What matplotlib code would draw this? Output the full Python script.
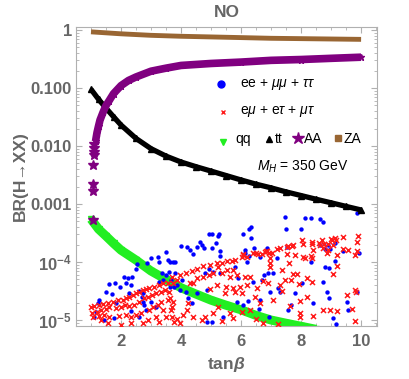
import matplotlib
matplotlib.use('Agg')
import matplotlib.pyplot as plt
from matplotlib.ticker import FixedLocator, FixedFormatter, LogLocator, MultipleLocator, NullFormatter

plt.rcParams['font.family'] = ['Liberation Sans', 'DejaVu Sans']
plt.rcParams['mathtext.fontset'] = 'custom'
plt.rcParams['mathtext.rm'] = 'Liberation Sans'
plt.rcParams['mathtext.it'] = 'Liberation Sans:italic'
plt.rcParams['mathtext.bf'] = 'Liberation Sans:bold'
plt.rcParams['mathtext.sf'] = 'Liberation Sans:bold:italic'

# ---------------- data ----------------
za_tanb = [1.0, 2.0, 3.0, 4.0, 5.0, 6.0, 7.0, 8.0, 9.0, 10.0]
za_br = [0.93, 0.86, 0.81, 0.78, 0.76, 0.74, 0.72, 0.71, 0.70, 0.69]

aa_tanb = [1.15, 1.2, 1.25, 1.3, 1.4, 1.5, 1.6, 1.75, 2.0, 2.25, 2.5, 3.0, 3.5, 4.0,
           5.0, 6.0, 7.0, 8.0, 9.0, 10.0]
aa_br = [0.012, 0.017, 0.022, 0.028, 0.038, 0.050, 0.060, 0.080, 0.11, 0.135, 0.155,
         0.195, 0.22, 0.245, 0.265, 0.28, 0.30, 0.31, 0.325, 0.34]
aa_sparse_tanb = [1.06, 1.07, 1.07, 1.08, 1.09, 1.09, 1.10, 1.11]
aa_sparse_br = [5.3e-4, 1.7e-3, 2.2e-3, 4.7e-3, 7.0e-3, 7.9e-3, 9.3e-3, 1.1e-2]

tt_tanb = [1.0, 1.25, 1.5, 1.75, 2.0, 2.5, 3.0, 3.5, 4.0, 4.5, 5.0, 5.5, 6.0, 6.5,
           7.0, 7.5, 8.0, 8.5, 9.0, 9.5, 10.0]
tt_br = [0.095, 0.064, 0.045, 0.032, 0.023, 0.0135, 0.0090, 0.0067, 0.0053, 0.0044,
         0.0037, 0.0031, 0.0026, 0.0022, 0.0019, 0.00162, 0.0014, 0.00121, 0.00105,
         0.00091, 0.00079]

qq_tanb = [1.0, 1.25, 1.5, 1.75, 2.0, 2.5, 3.0, 3.5, 4.0, 4.5, 5.0, 5.5, 6.0, 6.5,
           7.0, 7.5, 8.0, 8.5]
qq_br = [5.5e-4, 3.7e-4, 2.8e-4, 2.1e-4, 1.6e-4, 1.08e-4, 7.0e-5, 5.0e-5, 3.6e-5,
         2.8e-5, 2.2e-5, 1.8e-5, 1.5e-5, 1.2e-5, 1.0e-5, 8.8e-6, 7.8e-6, 6.9e-6]

lfc_tanb = [7.47, 7.50, 8.00, 8.13, 8.33, 8.63, 8.73, 6.33, 6.27, 6.33, 6.07, 5.27, 5.03,
            4.93, 5.23, 4.63, 5.17, 4.70, 4.20, 4.00, 4.53, 4.77, 5.03, 6.87, 7.53, 8.63,
            9.13, 9.87, 3.50, 3.23, 3.00, 6.13, 8.80, 2.87, 2.53, 3.27, 3.57, 3.73, 2.50,
            2.10, 2.23, 2.37, 1.60, 1.80, 2.17, 2.33, 1.97, 1.50, 1.70, 2.27, 2.60, 2.73,
            2.70, 2.73, 1.27, 1.23, 1.83, 1.17, 1.10, 2.77, 3.00, 2.83, 3.17, 2.33, 2.60,
            1.77, 1.43, 3.37, 3.50, 3.60, 3.27, 3.40, 3.67, 3.63, 3.77, 4.30, 4.40, 5.30,
            5.30, 6.43, 6.63, 3.63, 3.80, 4.93, 4.80, 5.07, 5.30, 5.80, 6.20, 6.13, 6.27,
            3.80, 4.03, 3.87, 3.97, 4.17, 4.53, 4.23, 4.37, 4.87, 5.90, 6.40, 6.70, 6.77,
            5.87, 6.23, 6.07, 6.63, 6.60, 5.40, 5.03, 4.87, 7.20, 8.90, 8.97, 9.40, 9.93,
            8.33, 9.13, 6.90, 7.07, 8.80, 8.93, 7.23, 7.30, 6.97, 7.80, 8.03, 8.73, 8.87,
            8.93, 9.87, 8.40, 9.53, 7.57, 7.67, 9.57, 9.07, 9.17, 6.93]
lfc_br = [6.0e-4, 3.7e-4, 3.7e-4, 5.7e-4, 5.7e-4, 5.5e-4, 4.9e-4, 4.0e-4, 3.7e-4, 2.6e-4,
          3.0e-4, 3.0e-4, 3.0e-4, 3.0e-4, 2.8e-4, 2.2e-4, 2.1e-4, 1.96e-4, 1.82e-4,
          1.89e-4, 1.82e-4, 1.74e-4, 1.74e-4, 1.74e-4, 1.82e-4, 1.96e-4, 2.1e-4, 7.0e-4,
          1.49e-4, 1.22e-4, 1.17e-4, 1.61e-4, 1.68e-4, 9.6e-5, 9.2e-5, 1.0e-4, 1.08e-4,
          1.0e-4, 7.6e-5, 5.5e-5, 5.3e-5, 5.5e-5, 4.2e-5, 4.3e-5, 4.3e-5, 4.0e-5, 3.7e-5,
          3.0e-5, 2.8e-5, 2.9e-5, 3.2e-5, 2.9e-5, 2.5e-5, 2.04e-5, 2.2e-5, 1.96e-5,
          1.96e-5, 1.37e-5, 1.13e-5, 1.82e-5, 2.04e-5, 1.49e-5, 1.68e-5, 1.43e-5, 1.13e-5,
          1.08e-5, 1.0e-5, 6.5e-5, 6.0e-5, 6.7e-5, 4.5e-5, 4.9e-5, 4.9e-5, 3.7e-5, 3.7e-5,
          1.61e-4, 1.37e-4, 1.55e-4, 1.27e-4, 1.74e-4, 1.22e-4, 1.0e-4, 1.0e-4, 7.6e-5,
          6.5e-5, 6.7e-5, 6.5e-5, 8.2e-5, 1.0e-4, 1.43e-4, 1.27e-4, 6.5e-5, 4.9e-5, 4.0e-5,
          3.3e-5, 3.0e-5, 2.9e-5, 2.4e-5, 1.96e-5, 3.3e-5, 5.3e-5, 4.5e-5, 4.9e-5, 6.0e-5,
          2.04e-5, 2.1e-5, 1.82e-5, 2.2e-5, 1.55e-5, 1.13e-5, 9.2e-6, 9.2e-6, 1.17e-4,
          1.96e-4, 1.68e-4, 1.55e-4, 1.43e-4, 1.0e-4, 1.04e-4, 6.5e-5, 6.5e-5, 8.2e-5,
          7.9e-5, 3.6e-5, 3.0e-5, 3.0e-5, 2.9e-5, 4.3e-5, 4.5e-5, 3.0e-5, 2.4e-5, 3.0e-5,
          1.96e-5, 2.04e-5, 1.49e-5, 1.82e-5, 1.49e-5, 1.08e-5, 8.5e-6, 1.13e-5]

lfv_tanb = [9.90, 9.40, 9.13, 9.03, 9.87, 8.90, 8.60, 8.77, 8.37, 8.07, 7.73, 7.53, 7.20,
            8.73, 9.40, 8.03, 8.70, 8.63, 9.87, 9.07, 7.70, 7.30, 6.87, 6.40, 6.07, 6.20,
            6.70, 8.40, 9.57, 8.90, 9.00, 9.17, 8.37, 7.57, 7.03, 6.93, 6.80, 7.80, 7.53,
            8.07, 8.33, 8.37, 8.13, 8.87, 9.20, 9.80, 6.97, 6.97, 6.97, 7.60, 7.37, 7.73,
            7.87, 9.07, 9.20, 7.47, 7.67, 8.37, 8.20, 7.93, 6.90, 7.30, 7.37, 8.20, 7.97,
            7.07, 9.53, 9.80, 9.83, 8.73, 8.97, 9.20, 7.63, 9.70, 7.97, 7.97, 8.40, 9.80,
            7.23, 3.87, 3.70, 3.97, 4.17, 4.37, 4.53, 4.73, 4.97, 5.20, 5.37, 5.53, 5.70,
            5.80, 6.03, 6.07, 6.50, 6.57, 6.83, 5.23, 5.07, 4.93, 4.73, 4.53, 4.40, 4.30,
            5.37, 5.53, 5.63, 5.73, 5.87, 6.13, 6.30, 6.73, 6.53, 6.20, 5.97, 5.73, 5.50,
            5.20, 4.97, 5.80, 6.03, 5.47, 6.47, 6.63, 6.30, 6.03, 5.63, 5.73, 5.37, 4.80,
            4.70, 4.40, 4.23, 4.20, 4.07, 3.87, 3.70, 3.70, 3.63, 3.97, 5.23, 5.07, 6.50,
            6.73, 1.00, 1.10, 1.27, 1.40, 1.57, 1.73, 1.90, 2.07, 2.17, 2.27, 2.40, 2.50,
            2.60, 2.73, 2.83, 2.93, 3.10, 3.27, 3.40, 3.57, 3.73, 1.03, 1.20, 1.33, 1.50,
            1.60, 1.83, 2.00, 2.13, 2.27, 2.43, 2.60, 2.77, 2.90, 3.03, 3.17, 3.33, 3.47,
            3.60, 1.07, 1.27, 1.43, 1.60, 1.93, 2.17, 2.33, 2.50, 2.67, 2.93, 3.07, 3.23,
            3.33, 3.57, 3.40, 3.17, 2.90, 2.33, 2.00, 1.57, 1.33, 3.73, 3.67, 3.50, 3.77,
            3.27, 2.73]
lfv_br = [2.8e-4, 2.7e-4, 2.6e-4, 2.4e-4, 2.2e-4, 2.04e-4, 2.1e-4, 2.04e-4, 2.04e-4,
          2.04e-4, 1.96e-4, 1.82e-4, 1.68e-4, 1.74e-4, 1.68e-4, 2.4e-4, 2.4e-4, 1.96e-4,
          1.55e-4, 1.96e-4, 1.89e-4, 1.74e-4, 1.55e-4, 1.43e-4, 1.32e-4, 1.22e-4, 1.37e-4,
          1.61e-4, 1.61e-4, 1.61e-4, 2.5e-4, 2.4e-4, 2.2e-4, 1.89e-4, 1.43e-4, 1.43e-4,
          1.49e-4, 1.32e-4, 1.37e-4, 1.22e-4, 1.27e-4, 1.17e-4, 1.17e-4, 1.43e-4, 1.32e-4,
          1.32e-4, 1.17e-4, 9.6e-5, 8.2e-5, 9.6e-5, 7.3e-5, 6.2e-5, 6.2e-5, 6.2e-5, 8.5e-5,
          4.9e-5, 4.9e-5, 4.5e-5, 5.3e-5, 4.2e-5, 4.3e-5, 4.0e-5, 3.2e-5, 2.5e-5, 2.1e-5,
          2.2e-5, 2.7e-5, 3.3e-5, 3.0e-5, 1.49e-5, 1.49e-5, 1.43e-5, 1.74e-5, 1.55e-5,
          1.32e-5, 1.13e-5, 1.17e-5, 9.6e-6, 8.5e-6, 4.9e-5, 5.5e-5, 6.0e-5, 6.5e-5,
          7.0e-5, 7.6e-5, 8.5e-5, 8.9e-5, 9.6e-5, 9.6e-5, 1.04e-4, 1.04e-4, 1.08e-4,
          1.22e-4, 1.37e-4, 1.43e-4, 1.37e-4, 1.55e-4, 8.2e-5, 6.5e-5, 6.0e-5, 5.5e-5,
          5.3e-5, 4.3e-5, 4.3e-5, 6.5e-5, 7.3e-5, 5.5e-5, 7.3e-5, 6.0e-5, 5.5e-5, 5.5e-5,
          4.7e-5, 3.6e-5, 4.0e-5, 3.7e-5, 3.6e-5, 3.7e-5, 4.0e-5, 3.4e-5, 3.0e-5, 2.9e-5,
          2.9e-5, 2.5e-5, 1.96e-5, 1.49e-5, 1.37e-5, 1.32e-5, 1.08e-5, 9.6e-6, 1.13e-5,
          1.0e-5, 1.13e-5, 1.96e-5, 1.49e-5, 1.22e-5, 1.04e-5, 1.68e-5, 1.13e-5, 2.4e-5,
          8.9e-6, 1.68e-5, 1.32e-5, 1.04e-5, 8.9e-6, 1.68e-5, 1.74e-5, 1.82e-5, 1.89e-5,
          1.96e-5, 2.04e-5, 2.2e-5, 2.2e-5, 2.4e-5, 2.5e-5, 2.7e-5, 2.9e-5, 3.0e-5, 3.3e-5,
          3.4e-5, 3.6e-5, 3.7e-5, 4.0e-5, 4.3e-5, 4.3e-5, 4.3e-5, 1.32e-5, 1.37e-5,
          1.49e-5, 1.55e-5, 1.68e-5, 1.61e-5, 1.68e-5, 1.82e-5, 1.74e-5, 1.82e-5, 2.04e-5,
          2.4e-5, 2.5e-5, 2.7e-5, 2.9e-5, 3.0e-5, 3.3e-5, 3.0e-5, 1.13e-5, 1.17e-5,
          1.22e-5, 1.13e-5, 1.17e-5, 1.22e-5, 1.13e-5, 1.22e-5, 1.32e-5, 1.49e-5, 1.68e-5,
          1.82e-5, 2.04e-5, 2.2e-5, 1.49e-5, 1.13e-5, 1.0e-5, 8.9e-6, 8.2e-6, 8.9e-6,
          1.0e-5, 2.04e-5, 1.49e-5, 1.13e-5, 9.2e-6, 9.2e-6, 8.9e-6]

xticks = [2, 4, 6, 8, 10]
yticks = [1e-5, 1e-4, 1e-3, 1e-2, 1e-1, 1.0]
ytick_labels = [r'$\mathbf{10^{-5}}$', r'$\mathbf{10^{-4}}$', '0.001', '0.010', '0.100', '1']

# ---------------- style ----------------
C_BLUE = '#0000ff'
C_RED = '#ff1a1a'
C_GREEN = '#22ee22'
C_PURPLE = '#800080'
C_BROWN = '#996633'
C_GRAY = '#666666'
C_FRAME = '#b0b0b0'

fig = plt.figure(figsize=(4.09, 3.79), dpi=100)
ax = fig.add_axes([76/409, 1-326/379, 301/409, 299/379])
ax.set_yscale('log')

# bands
ax.plot(qq_tanb, qq_br, color=C_GREEN, lw=6.5, solid_capstyle='butt', zorder=2)
ax.plot(qq_tanb, qq_br, color=C_GREEN, ls='none', marker='v', ms=4, zorder=2)

ax.scatter(lfc_tanb, lfc_br, s=10, color=C_BLUE, marker='o', lw=0, zorder=3)
ax.scatter(lfv_tanb, lfv_br, s=13, color=C_RED, marker='x', lw=1.1, zorder=3)

ax.plot(tt_tanb, tt_br, color='black', lw=3.8, solid_capstyle='butt', zorder=4)
ax.plot(tt_tanb, tt_br, color='black', ls='none', marker='^', ms=4, zorder=4)
ax.plot(aa_tanb, aa_br, color=C_PURPLE, lw=5.5, solid_capstyle='butt', zorder=4)
ax.plot(aa_tanb, aa_br, color=C_PURPLE, ls='none', marker='*', ms=5, zorder=4)
ax.plot(aa_sparse_tanb, aa_sparse_br, color=C_PURPLE, ls='none', marker='*', ms=7, zorder=4)
ax.plot(za_tanb, za_br, color=C_BROWN, lw=3.5, solid_capstyle='butt', zorder=4)

ax.set_xlim(0.5, 10.53)
ax.set_ylim(10**-5.103, 10**0.052)

ax.xaxis.set_major_locator(FixedLocator(xticks))
ax.xaxis.set_minor_locator(MultipleLocator(0.5))
ax.yaxis.set_major_locator(FixedLocator(yticks))
ax.yaxis.set_major_formatter(FixedFormatter(ytick_labels))
ax.yaxis.set_minor_locator(LogLocator(base=10, subs=[2, 3, 4, 5, 6, 7, 8, 9]))
ax.yaxis.set_minor_formatter(NullFormatter())

ax.tick_params(which='both', direction='in', top=True, right=True,
               color=C_FRAME, labelcolor=C_GRAY, labelsize=12)
ax.tick_params(which='major', length=4, width=0.8)
ax.tick_params(which='minor', length=2, width=0.6)
ax.tick_params(axis='x', pad=6)
ax.tick_params(axis='y', pad=3)
for lbl in ax.get_xticklabels() + ax.get_yticklabels():
    lbl.set_fontweight('bold')
for sp in ax.spines.values():
    sp.set_color(C_FRAME)
    sp.set_linewidth(0.8)

ax.set_title('NO', fontsize=12.5, fontweight='bold', color=C_GRAY, pad=7)
ax.set_xlabel(r'tan$\mathsf{\beta}$', fontsize=12.5, fontweight='bold', color=C_GRAY, labelpad=4)
ax.set_ylabel('BR(H→XX)', fontsize=12.5, fontweight='bold', color=C_GRAY, labelpad=2)

# legend (manual, as in the original)
tkw = dict(transform=ax.transAxes, fontsize=10, va='center', ha='left', color='black')
ax.plot([0.482], [0.809], transform=ax.transAxes, marker='o', ms=5, color=C_BLUE, ls='none')
ax.text(0.545, 0.809, r'ee + $\mu\mu$ + $\tau\tau$', **tkw)
ax.plot([0.488], [0.716], transform=ax.transAxes, marker='x', ms=3.5, mew=1.0, color=C_RED, ls='none')
ax.text(0.545, 0.716, r'e$\mu$ + e$\tau$ + $\mu\tau$', **tkw)
ax.plot([0.488], [0.617], transform=ax.transAxes, marker='v', ms=4.5, color=C_GREEN, ls='none')
ax.text(0.530, 0.625, 'qq', **tkw)
ax.plot([0.641], [0.627], transform=ax.transAxes, marker='^', ms=4.5, color='black', ls='none')
ax.text(0.660, 0.625, 'tt', **tkw)
ax.plot([0.736], [0.629], transform=ax.transAxes, marker='*', ms=9, color=C_PURPLE, ls='none')
ax.text(0.758, 0.625, 'AA', **tkw)
ax.plot([0.870], [0.629], transform=ax.transAxes, marker='s', ms=5, color=C_BROWN, ls='none')
ax.text(0.890, 0.625, 'ZA', **tkw)
ax.text(0.600, 0.532, r'$M_H$ = 350 GeV', **tkw)

fig.savefig('out.png', dpi=100)
